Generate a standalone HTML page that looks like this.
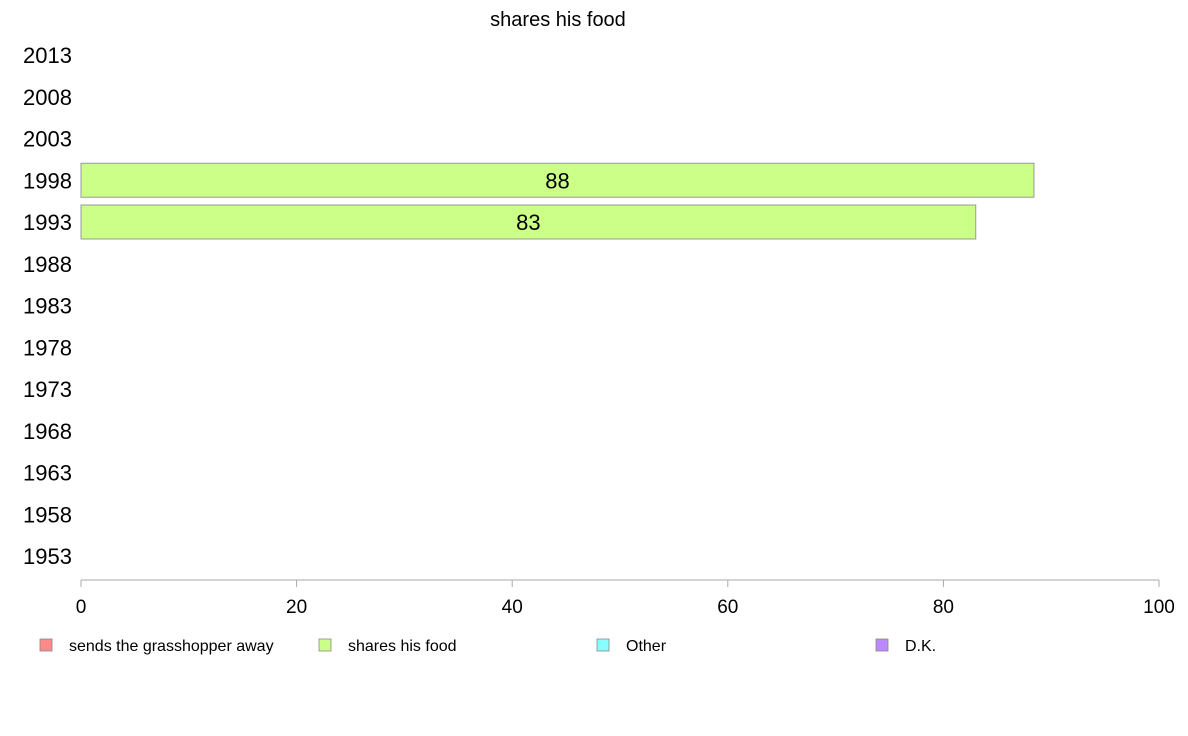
<!DOCTYPE html>
<html><head><meta charset="utf-8"><style>
body{margin:0;background:#fff;}
svg{display:block;font-family:"Liberation Sans",Arial,sans-serif;}
</style></head><body>
<svg id="chart" width="1188" height="736">
<text x="558" y="26" text-anchor="middle" font-size="20">shares his food</text>
<g id="yaxis"></g><g id="bars"></g><g id="xaxis"></g><g id="legend"></g>
</svg>
<script>
const years=["2013","2008","2003","1998","1993","1988","1983","1978","1973","1968","1963","1958","1953"];
const barYears=["1998","1993"];
const barValues=[88.4,83];
const xTicks=[0,20,40,60,80,100];
const legendLabels=["sends the grasshopper away","shares his food","Other","D.K."];
const legendColors=["#ff8a8a","#ccff88","#88ffff","#bb88ff"];
const NS="http://www.w3.org/2000/svg";
function mk(t,a,p){const e=document.createElementNS(NS,t);for(const k in a)e.setAttribute(k,a[k]);p.appendChild(e);return e;}
const x=v=>81+v*(1159-81)/100;
const y=i=>55+i*(556-55)/12;
const ya=document.getElementById('yaxis');
years.forEach((yr,i)=>{const t=mk('text',{x:72,y:y(i)+8,'text-anchor':'end','font-size':22},ya);t.textContent=yr;

});
const bg=document.getElementById('bars');
barYears.forEach((yr,j)=>{const i=years.indexOf(yr);const v=barValues[j];
const r=mk('rect',{x:x(0),y:y(i)-17,width:x(v)-x(0),height:34,fill:'#ccff88',stroke:'#999','stroke-width':1},bg);


const t=mk('text',{x:(x(0)+x(v))/2,y:y(i)+8,'text-anchor':'middle','font-size':22},bg);t.textContent=Math.round(v);

});
const xa=document.getElementById('xaxis');
const al=mk('line',{x1:x(0),x2:x(100),y1:580,y2:580,stroke:'#aaa','stroke-width':1},xa);


xTicks.forEach(v=>{const l=mk('line',{x1:x(v),x2:x(v),y1:580,y2:587,stroke:'#aaa'},xa);


const t=mk('text',{x:x(v),y:613,'text-anchor':'middle','font-size':19},xa);t.textContent=v;

});
const lg=document.getElementById('legend');
const lx=[40,319,597,876];
legendLabels.forEach((lab,i)=>{const g=mk('g',{},lg);


mk('rect',{x:lx[i],y:639,width:12,height:12,fill:legendColors[i],stroke:'#888','stroke-width':0.8},g);
const t=mk('text',{x:lx[i]+29,y:651,'font-size':16},g);t.textContent=lab;});
</script>
</body></html>
